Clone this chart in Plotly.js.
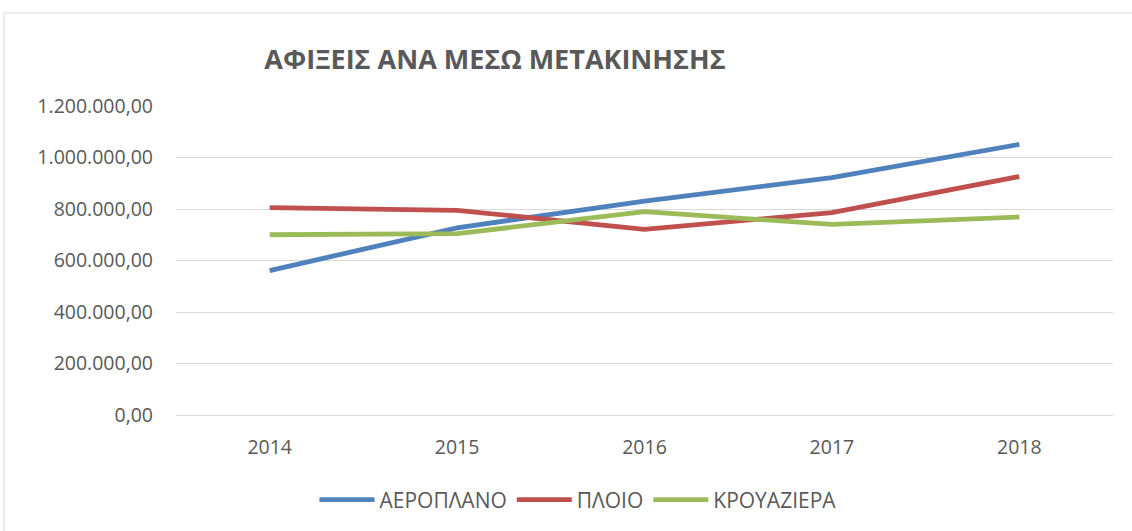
<!DOCTYPE html>
<html>
<head>
<meta charset="utf-8">
<script src="https://cdn.plot.ly/plotly-3.0.1.min.js"></script>
<style>
html,body{margin:0;padding:0;background:#fff;}
#chart{width:1132px;height:531px;}
</style>
</head>
<body>
<div id="chart"></div>
<script>
const years = ['2014', '2015', '2016', '2017', '2018'];
const aeroplano = [561000, 727000, 831000, 922000, 1051000];
const ploio = [805000, 795000, 721000, 786000, 926000];
const krouaziera = [700000, 704000, 790000, 740000, 769000];
const seriesNames = ['ΑΕΡΟΠΛΑΝΟ', 'ΠΛΟΙΟ', 'ΚΡΟΥΑΖΙΕΡΑ'];
const yTicks = [0, 200000, 400000, 600000, 800000, 1000000, 1200000];

const colors = ['#4F81BD', '#C0504D', '#9BBB59'];
const data = [aeroplano, ploio, krouaziera].map((vals, i) => ({
  x: years, y: vals, name: seriesNames[i], type: 'scatter', mode: 'lines',
  line: {color: colors[i], width: 4.8}
}));

const font = {family: 'Open Sans, Liberation Sans, sans-serif', color: '#595959', size: 19.5};
const layout = {
  width: 1132, height: 531,
  margin: {l: 176, r: 19, t: 106, b: 116, autoexpand: false},
  paper_bgcolor: '#fff', plot_bgcolor: '#fff',
  separators: ',.',
  font: font,
  title: {text: '<b>ΑΦΙΞΕΙΣ ΑΝΑ ΜΕΣΩ ΜΕΤΑΚΙΝΗΣΗΣ</b>', x: 495 / 1132, xanchor: 'center', y: 1 - 60 / 531, yanchor: 'middle',
    font: {family: 'Open Sans, Liberation Sans, sans-serif', size: 27, color: '#595959'}},
  xaxis: {type: 'category', range: [-0.5, 4.5], showgrid: false, zeroline: false, showline: false,
    ticks: '', tickfont: font, ticklabelstandoff: 18, fixedrange: true},
  yaxis: {range: [0, 1200000], tickvals: yTicks, tickformat: ',.2f', showgrid: true, gridcolor: '#D9D9D9',
    gridwidth: 1, zeroline: true, zerolinecolor: '#D9D9D9', zerolinewidth: 1, showline: false, ticks: '',
    ticklabelstandoff: 22, tickfont: font, fixedrange: true},
  legend: {orientation: 'h', x: (578 - 176) / 937, xanchor: 'center', y: -0.275, yanchor: 'middle',
    font: {family: font.family, color: font.color, size: 21}, itemwidth: 55, tracegroupgap: 0},
  showlegend: true,
  shapes: [{type: 'rect', xref: 'paper', yref: 'paper', x0: (4 - 176) / 937, x1: (1140 - 176) / 937,
    y0: (415 - 540) / 309, y1: (415 - 13) / 309, line: {color: '#D9D9D9', width: 1}, fillcolor: 'rgba(0,0,0,0)', layer: 'below'}]
};
Plotly.newPlot('chart', data, layout, {displayModeBar: false, staticPlot: true});
</script>
</body>
</html>
